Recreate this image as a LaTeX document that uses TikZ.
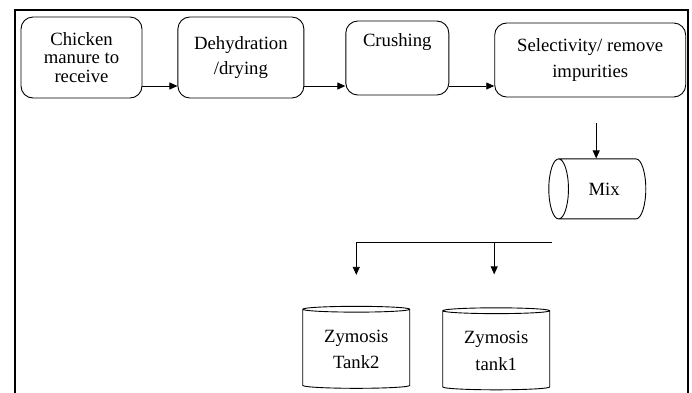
\documentclass[tikz,border=0pt]{standalone}
\usepackage{fontspec}
\setmainfont{Liberation Serif}
\usetikzlibrary{arrows.meta,positioning,shapes.geometric,calc}

\begin{document}
\begin{tikzpicture}[
  x=1pt, y=-1pt,
  node distance=35pt,
  box/.style={draw, rounded corners=12pt, align=center, line width=0.9pt,
    font=\fontsize{18.7}{18.5}\selectfont, inner sep=2pt},
  drum/.style={draw, cylinder, align=center, line width=0.9pt,
    font=\fontsize{18.7}{26.5}\selectfont, inner sep=2pt},
  flow/.style={-{Triangle[length=8pt,width=7pt]}, line width=0.8pt},
  frame/.style={line width=2pt}
]
\useasboundingbox (0,0) rectangle (692,392);
\draw[frame] (14.5,393) -- (14.5,9.5) -- (688,9.5) -- (688,393);

\node[box, minimum width=121pt, minimum height=81pt] (a) at (81.5,57.5) {Chicken\\manure to\\receive};
\node[box, minimum width=126pt, minimum height=81pt, right=35pt of a] (b) {Dehydration\\[6.5pt]/drying};
\node[box, minimum width=103pt, minimum height=74pt, right=41pt of b, yshift=-0.5pt, text depth=36pt] (c) {Crushing};
\node[box, minimum width=191pt, minimum height=74pt, right=45pt of c, yshift=-2pt] (d) {Selectivity/ remove\\[7.5pt]impurities};
\node[drum, shape border rotate=180, aspect=1.2, minimum width=60pt, minimum height=97pt, below=61pt of d, xshift=14pt] (mix) {Mix};
\node[drum, shape border rotate=90, aspect=0.085, minimum width=107pt, minimum height=82pt, below=88pt of mix, xshift=-108pt] (t1) {Zymosis\\tank1};
\node[drum, shape border rotate=90, aspect=0.085, minimum width=107pt, minimum height=82pt, left=32pt of t1, yshift=1.5pt] (t2) {Zymosis\\Tank2};

\coordinate (ab) at ([yshift=-28.5pt]a.east);
\draw[flow] (ab) -- (ab -| b.west);
\coordinate (bc) at ([yshift=-28.5pt]b.east);
\draw[flow] (bc) -- (bc -| c.west);
\coordinate (cd) at ([yshift=-28pt]c.east);
\draw[flow] (cd) -- (cd -| d.west);
\coordinate (din) at ([xshift=-8pt, yshift=35pt]mix.north);
\draw[flow] (din) -- (din |- mix.north);
\coordinate (split) at ([xshift=-52pt, yshift=-23pt]mix.south);
\coordinate (drop) at ([xshift=-2pt]t1.north);
\draw[line width=0.8pt] (split) -- (split -| t2.north);
\draw[flow] (split -| t2.north) -- ([yshift=31pt]t2.north);
\draw[flow] (split -| drop) -- ([yshift=33pt]drop);
\end{tikzpicture}
\end{document}
